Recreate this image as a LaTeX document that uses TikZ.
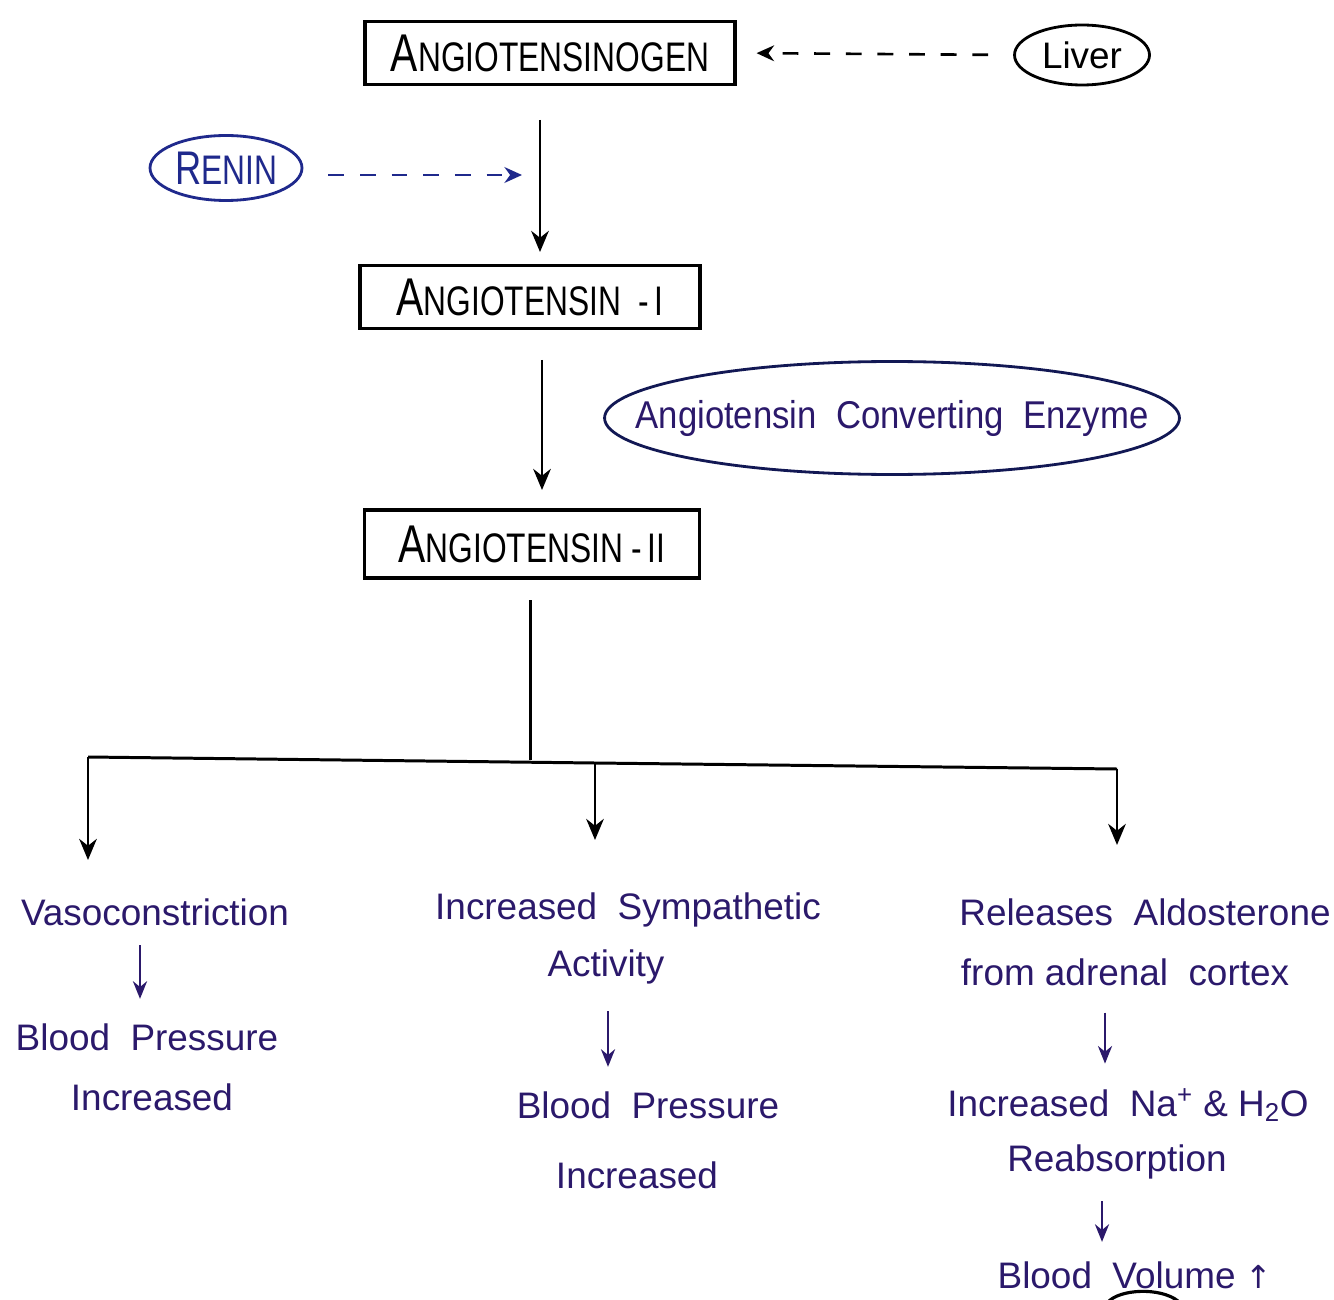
\documentclass[tikz,border=0pt]{standalone}
\usepackage{fontspec}
\usepackage{graphicx}
\setmainfont{Liberation Sans}
\newfontfamily\symfont{DejaVu Sans}
\usetikzlibrary{shapes.geometric,arrows.meta}
\definecolor{ink}{rgb}{0.17,0.10,0.42}
\definecolor{renblue}{rgb}{0.12,0.16,0.55}
\newcommand{\bigA}{{\fontsize{27}{27}\selectfont A}}
\newcommand{\smc}[1]{{\fontsize{21}{21}\selectfont #1}}
\newcommand{\boxtext}[1]{\scalebox{0.86}[1.12]{#1}}
\tikzset{
  box/.style={draw=black,line width=1.8pt,minimum height=1.26cm,inner sep=0pt,text=black},
  oval/.style={ellipse,draw=black,line width=1.6pt,inner sep=0pt},
  hand/.style={text=ink,font=\fontsize{21}{24}\selectfont,inner sep=1pt},
  conn/.style={line width=1.6pt,-{Stealth[length=12pt,width=10pt]}},
  small/.style={line width=1.5pt,ink,-{Stealth[length=10pt,width=8pt]}},
  dashline/.style={line width=1.5pt,dash pattern=on 9pt off 9pt,-{Stealth[length=10pt,width=9pt]}}
}
\begin{document}
\begin{tikzpicture}[x=0.02cm,y=-0.02cm]
\useasboundingbox[fill=white] (0,0) rectangle (1334,1300);

% main boxes
\node[box,minimum width=7.4cm] (ang0) at (550,53) {\boxtext{\bigA\smc{NGIOTENSINOGEN}}};
\node[box,minimum width=6.8cm] (ang1) at (530,297) {\boxtext{\bigA\smc{NGIOTENSIN \ -\,I}}};
\node[box,minimum width=6.7cm,minimum height=1.36cm] (ang2) at (532,544) {\boxtext{\bigA\smc{NGIOTENSIN -\,II}}};

% ovals
\node[oval,minimum width=2.7cm,minimum height=1.2cm,font=\fontsize{21}{24}\selectfont] (liver) at (1082,55) {Liver};
\node[oval,draw=renblue,minimum width=3.04cm,minimum height=1.3cm,text=renblue,inner sep=-3pt] (renin) at (226,168) {\boxtext{\fontsize{24}{24}\selectfont R\smc{ENIN}}};
\node[oval,draw=renblue!60!black,minimum width=11.5cm,minimum height=2.26cm] (ace) at (892,418) {};
\node[hand] (acetext) at (ace.center) {\scalebox{0.94}[1.05]{Angiotensin \ Converting \ Enzyme}};

% connectors
\coordinate (a1t) at (540,120);
\coordinate (a1b) at (540,252);
\coordinate (rt) at (522,175);
\coordinate (a2t) at (542,360);
\coordinate (a2b) at (542,490);
\coordinate (trt) at (530,600);
\coordinate (trb) at (530,760);
\coordinate (hl) at (88,757);
\coordinate (hm) at (595,763);
\coordinate (hr) at (1117,769);
\coordinate (dl) at (88,860);
\coordinate (dm) at (595,840);
\coordinate (dr) at (1117,845);

\draw[dashline,black,shorten <=0.5cm,shorten >=0.4cm] (liver.west) -- (ang0.east);
\draw[dashline,renblue,shorten <=0.5cm] (renin.east |- rt) -- (rt);
\draw[conn] (a1t) -- (a1b);
\draw[conn] (a2t) -- (a2b);
\draw[line width=1.7pt] (trt) -- (trb);
\draw[line width=1.7pt] (hl) -- (hm) -- (hr);
\draw[conn] (hl) -- (dl);
\draw[conn] (hm) -- (dm);
\draw[conn] (hr) -- (dr);

% left column
\node[hand] (vaso) at (155,912) {Vasoconstriction};
\node[hand] (bpl) at (147,1037) {Blood \ Pressure};
\node[hand] (incl) at (152,1097) {Increased};
\draw[small,shorten <=0.35cm,shorten >=0.45cm] (vaso.south -| 140,0) -- (bpl.north -| 140,0);

% middle column
\node[hand] (sym) at (628,910) {Increased \ Sympathetic};
\node[hand] (act) at (606,967) {Activity};
\node[hand] (bpm) at (648,1105) {Blood \ Pressure};
\node[hand] (incm) at (637,1175) {Increased};
\draw[small,shorten <=0.5cm,shorten >=0.45cm] (act.south -| 608,0) -- (bpm.north -| 608,0);

% right column
\node[hand] (rel) at (1145,912) {Releases \ Aldosterone};
\node[hand] (adr) at (1125,972) {from adrenal \ cortex};
\node[hand] (na) at (1128,1105) {Increased \ Na\textsuperscript{+} \& H\textsubscript{2}O};
\node[hand] (reab) at (1117,1162) {Reabsorption};
\node[hand] (bv) at (1135,1275) {Blood \ Volume {\symfont\fontsize{18}{18}\selectfont ↑}};
\draw[small,shorten <=0.5cm,shorten >=0.45cm] (adr.south -| 1105,0) -- (na.north -| 1105,0);
\draw[small,shorten <=0.4cm,shorten >=0.35cm] (reab.south -| 1102,0) -- (bv.north -| 1102,0);

% stray arc at the bottom edge
\draw[line width=1.8pt] (1108,1302) .. controls (1120,1289) and (1160,1287) .. (1178,1301);
\end{tikzpicture}
\end{document}
